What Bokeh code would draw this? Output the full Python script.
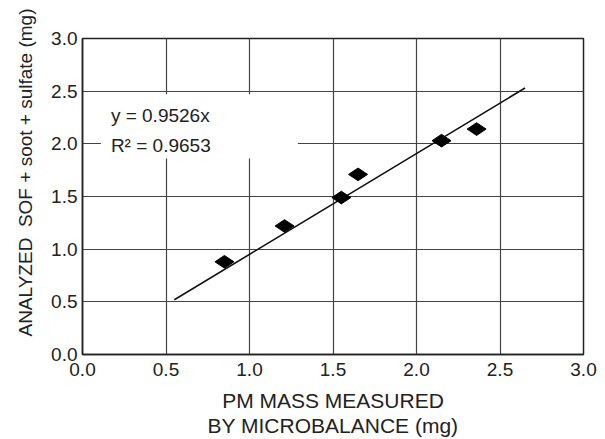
import math
from bokeh.plotting import figure
from bokeh.models import Range1d, FixedTicker, NumeralTickFormatter, BoxAnnotation, Label, Title
from bokeh.embed import file_html
from bokeh.resources import INLINE

# Data
pm_mass = [0.85, 1.21, 1.55, 1.65, 2.15, 2.36]
analyzed = [0.88, 1.22, 1.49, 1.71, 2.03, 2.14]
fit_x = [0.55, 2.65]
fit_y = [0.52, 2.53]
ticks = [0.0, 0.5, 1.0, 1.5, 2.0, 2.5, 3.0]
eq_text = "y = 0.9526x"
r2_text = "R\u00b2 = 0.9653"
x_title = "PM MASS MEASURED\nBY MICROBALANCE (mg)"
y_title = "ANALYZED\u00a0 SOF + soot + sulfate (mg)"

FONT = "Liberation Sans"
TXT = "#222222"

p = figure(width=605, height=439, x_range=Range1d(0, 3), y_range=Range1d(0, 3),
           output_backend="svg", toolbar_location=None,
           min_border_left=82, min_border_right=22, min_border_top=38, min_border_bottom=79)
p.background_fill_color = "white"
p.border_fill_color = "white"
p.outline_line_color = "#222222"
p.outline_line_width = 1.5

for ax in (p.xaxis, p.yaxis):
    ax.ticker = FixedTicker(ticks=ticks)
    ax.formatter = NumeralTickFormatter(format="0.0")
    ax.major_tick_line_color = None
    ax.minor_tick_line_color = None
    ax.axis_line_color = "#222222"
    ax.axis_line_width = 1.5
    ax.major_label_text_font = FONT
    ax.major_label_text_font_size = "19px"
    ax.major_label_text_color = TXT
    ax.major_tick_out = 0
    ax.major_tick_in = 0

p.yaxis.major_label_standoff = 5
p.yaxis.major_label_text_baseline = "alphabetic"
p.xaxis.major_label_standoff = 8
p.xaxis.major_label_text_line_height = 1.0

p.xaxis.axis_label = x_title
p.xaxis.axis_label_text_font = FONT
p.xaxis.axis_label_text_font_size = "21px"
p.xaxis.axis_label_text_font_style = "normal"
p.xaxis.axis_label_text_color = TXT
p.xaxis.axis_label_text_line_height = 1.1
p.xaxis.axis_label_standoff = 10

for g in (p.xgrid, p.ygrid):
    g.ticker = FixedTicker(ticks=ticks)
    g.grid_line_color = "#444444"
    g.grid_line_width = 1.2

# y-axis title placed as a side title (end of text near the top like the original)
p.add_layout(Title(text=y_title, align="right", offset=-30, vertical_align="middle",
                   standoff=24, text_font=FONT, text_font_size="19px",
                   text_font_style="normal", text_color=TXT), "left")

p.line(fit_x, fit_y, line_color="#111111", line_width=1.6)
p.scatter(pm_mass, analyzed, marker="diamond", size=19, angle=math.pi / 2,
          fill_color="black", line_color="black")

p.add_layout(BoxAnnotation(left=0.11, right=1.29, bottom=1.86, top=2.47,
                           fill_color="white", fill_alpha=1.0, line_color=None))
p.add_layout(Label(x=0.17, y=2.27, text=eq_text, text_baseline="middle",
                   text_font=FONT, text_font_size="19px", text_color=TXT))
p.add_layout(Label(x=0.17, y=1.985, text=r2_text, text_baseline="middle",
                   text_font=FONT, text_font_size="19px", text_color=TXT))

open("out.html", "w").write(file_html(p, INLINE))
